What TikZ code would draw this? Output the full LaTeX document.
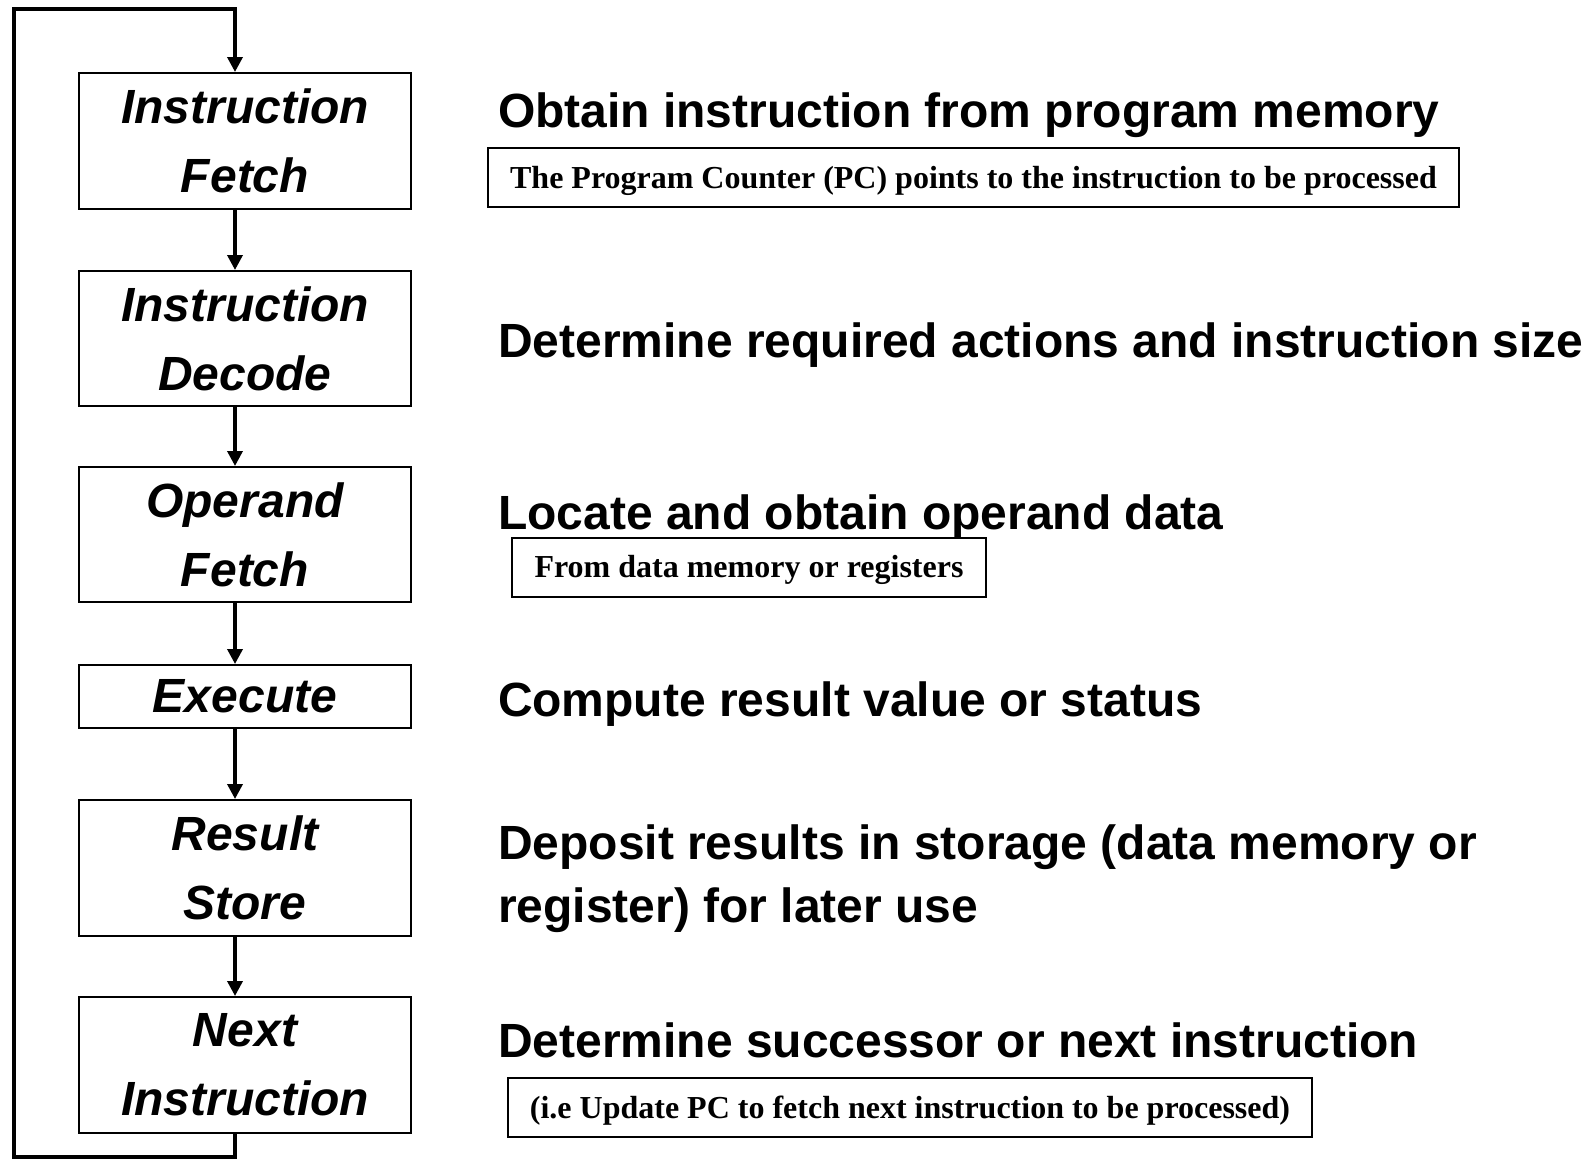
\documentclass[tikz,border=0pt]{standalone}
\usepackage{fontspec}
\setmainfont{Liberation Sans}
\newfontfamily\notefont{Liberation Serif}
\usetikzlibrary{arrows.meta}

\begin{document}
\begin{tikzpicture}[x=1pt,y=-1pt,line width=2pt,
  stage/.style={draw,minimum width=332pt,align=center,inner sep=0pt,
    font=\fontsize{48}{69}\selectfont\bfseries\itshape},
  desc/.style={anchor=base west,inner sep=0pt,font=\fontsize{48}{58}\selectfont\bfseries},
  note/.style={draw,inner sep=0pt,minimum height=59pt,text height=26pt,text depth=5pt,
    font=\fontsize{32}{38}\notefont\bfseries},
  flow/.style={line width=3.5pt,-{Triangle[length=15pt,width=15pt]}}]
\useasboundingbox (0,0) rectangle (1593,1159);
% 指令周期各阶段
\node[stage,minimum height=136pt] (fetch) at (245,141) {Instruction\\Fetch};
\node[stage,minimum height=135pt] (decode) at (245,338.5) {Instruction\\Decode};
\node[stage,minimum height=135pt] (operand) at (245,534.5) {Operand\\Fetch};
\node[stage,minimum height=63pt] (execute) at (245,696.5) {Execute};
\node[stage,minimum height=136pt] (store) at (245,868) {Result\\Store};
\node[stage,minimum height=136pt] (next) at (245,1065) {Next\\Instruction};
% 阶段之间的箭头
\coordinate (ax) at (235,0);
\foreach \a/\b in {fetch/decode,decode/operand,operand/execute,execute/store,store/next}
  \draw[flow] (\a.south -| ax) -- (\b.north -| ax);
% 回到取指的环路
\coordinate (top) at (14,9);
\coordinate (bot) at (14,1157);
\draw[flow] (next.south -| ax) |- (bot) -- (top) -| (fetch.north -| ax);
% 右侧说明
\node[desc] (obtain) at (497,127) {Obtain instruction from program memory};
\node[desc] (actions) at (497,357) {Determine required actions and instruction size};
\node[desc] (locate) at (497,529) {Locate and obtain operand data};
\node[desc] (compute) at (497,716) {Compute result value or status};
\node[desc] (deposit) at (497,859) {Deposit results in storage (data memory or};
\node[desc] (deposit2) at (497,922) {register) for later use};
\node[desc] (succ) at (497,1057) {Determine successor or next instruction};
% 注释框
\node[note,minimum width=971pt] (pc) at (973.5,177.5) {The Program Counter (PC) points to the instruction to be processed};
\node[note,minimum width=474pt] (src) at (749,567) {From data memory or registers};
\node[note,minimum width=804pt] (upd) at (910,1107.5) {(i.e Update PC to fetch next instruction to be processed)};
\end{tikzpicture}
\end{document}
